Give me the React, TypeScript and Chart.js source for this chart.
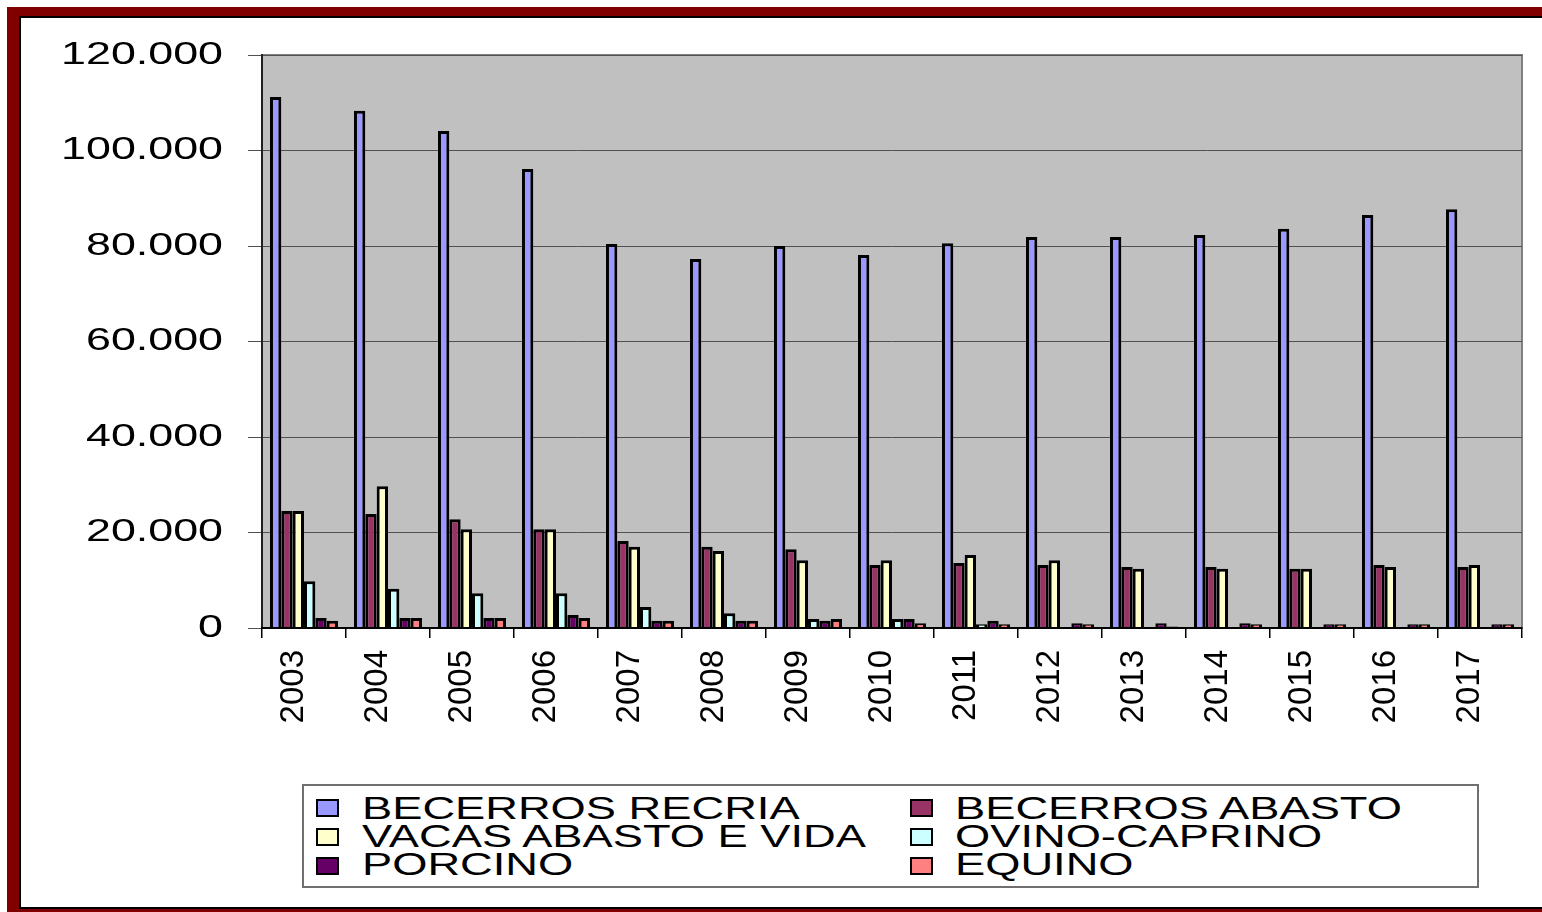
import React, { useEffect, useRef } from 'react';
import { Chart, registerables } from 'chart.js';

Chart.register(...registerables);

const years = ['2003', '2004', '2005', '2006', '2007', '2008', '2009', '2010', '2011', '2012', '2013', '2014', '2015', '2016', '2017'];

const becerrosRecria = [111200, 108300, 104100, 96100, 80400, 77300, 80000, 78100, 80600, 81900, 81900, 82300, 83600, 86500, 87700];
const becerrosAbasto = [24500, 23900, 22800, 20700, 18200, 17000, 16500, 13200, 13600, 13200, 12800, 12800, 12400, 13200, 12800];
const vacasAbastoEVida = [24500, 29700, 20700, 20700, 17000, 16100, 14200, 14200, 15300, 14200, 12400, 12400, 12400, 12800, 13200];
const ovinoCaprino = [9800, 8200, 7300, 7300, 4400, 3100, 1900, 1900, 800, 200, 200, 200, 0, 0, 0];
const porcino = [2100, 2100, 2100, 2700, 1500, 1500, 1500, 1900, 1500, 1000, 1000, 1000, 800, 800, 800];
const equino = [1500, 2100, 2100, 2100, 1500, 1500, 1900, 1000, 800, 800, 300, 800, 800, 800, 800];

const seriesNames = ['BECERROS RECRIA', 'BECERROS ABASTO', 'VACAS ABASTO E VIDA', 'OVINO-CAPRINO', 'PORCINO', 'EQUINO'];
const seriesColors = ['#9999FF', '#993366', '#FFFFCC', '#CCFFFF', '#660066', '#FF8080'];
const seriesValues = [becerrosRecria, becerrosAbasto, vacasAbastoEVida, ovinoCaprino, porcino, equino];

const yMin = 0;
const yMax = 120000;
const yStep = 20000;

const formatThousands = (v: number) => String(Math.round(v)).replace(/\B(?=(\d{3})+(?!\d))/g, '.');

const FONT = "'Liberation Sans', Arial, sans-serif";

const plotBgPlugin = {
  id: 'plotBg',
  beforeDraw(chart: any) {
    const { ctx, chartArea } = chart;
    const { left, top, right, bottom } = chartArea;
    ctx.save();
    ctx.fillStyle = '#C0C0C0';
    ctx.fillRect(left, top, right - left, bottom - top);
    ctx.strokeStyle = '#808080';
    ctx.lineWidth = 2;
    ctx.strokeRect(left, top, right - left, bottom - top);
    ctx.restore();
    // stretch y-axis tick labels horizontally, right edge kept 25px left of the tick marks
    const s = chart.scales.y;
    if (s && !s.__stretched) {
      const orig = s.drawLabels.bind(s);
      s.drawLabels = (area: any) => {
        const c = chart.ctx;
        const a = s.right - 14;
        c.save();
        c.translate(a - 25, 0);
        c.scale(1.4, 1);
        c.translate(-a, 0);
        orig(area);
        c.restore();
      };
      s.__stretched = true;
    }
  },
};

export default function App() {
  const canvasRef = useRef<HTMLCanvasElement | null>(null);

  useEffect(() => {
    if (!canvasRef.current) return;
    const chart = new Chart(canvasRef.current, {
      type: 'bar',
      data: {
        labels: years,
        datasets: seriesNames.map((name, i) => ({
          label: name,
          data: seriesValues[i],
          backgroundColor: seriesColors[i],
          borderColor: '#000000',
          borderWidth: 3,
          categoryPercentage: 0.81,
          barPercentage: 1.0,
        })),
      },
      options: {
        responsive: false,
        animation: false,
        devicePixelRatio: 1,
        layout: { padding: { top: 37, right: 20, bottom: 0, left: 0 } },
        plugins: {
          legend: { display: false },
          tooltip: { enabled: false },
          title: { display: false },
        },
        scales: {
          x: {
            type: 'category',
            offset: true,
            grid: {
              offset: true,
              drawOnChartArea: false,
              drawTicks: true,
              tickLength: 10,
              color: '#000000',
              lineWidth: 1.5,
            },
            border: { display: true, color: '#000000', width: 2, z: 1 },
            ticks: {
              autoSkip: false,
              minRotation: 90,
              maxRotation: 90,
              padding: 12,
              labelOffset: -10,
              color: '#000000',
              font: { family: FONT, size: 33 },
            },
            afterFit: (scale: any) => {
              scale.height = 278;
            },
          },
          y: {
            min: yMin,
            max: yMax,
            grid: {
              color: '#505050',
              lineWidth: 1,
              drawTicks: true,
              tickLength: 14,
            },
            border: { display: true, color: '#202020', width: 2 },
            ticks: {
              stepSize: yStep,
              padding: 0,
              color: '#000000',
              font: { family: FONT, size: 32, lineHeight: 1 },
              callback: (v: any) => formatThousands(Number(v)),
            },
            afterFit: (scale: any) => {
              scale.width = 241;
            },
          },
        },
      },
      plugins: [plotBgPlugin],
    });
    return () => chart.destroy();
  }, []);

  const colLeft = [316, 910];
  const textLeft = [362, 955];
  const boxTops = [799, 828, 857];
  const textTops = [793, 821, 849];

  return (
    <div style={{ position: 'fixed', left: 0, top: 0, width: 1542, height: 912, overflow: 'hidden', background: '#ffffff' }}>
      <div
        style={{
          position: 'absolute',
          left: 7,
          top: 7,
          width: 1560,
          height: 911,
          boxSizing: 'border-box',
          borderStyle: 'solid',
          borderColor: '#800000',
          borderWidth: '9px 12px 9px 12px',
          boxShadow: 'inset 0 0 0 2px #000000',
          background: '#ffffff',
        }}
      />
      <canvas ref={canvasRef} width={1521} height={888} style={{ position: 'absolute', left: 21, top: 18, width: 1521, height: 888 }} />
      <div
        style={{
          position: 'absolute',
          left: 302,
          top: 784,
          width: 1177,
          height: 104,
          boxSizing: 'border-box',
          border: '2px solid #707070',
          background: '#ffffff',
        }}
      />
      {seriesNames.map((name, i) => {
        const col = i % 2;
        const row = Math.floor(i / 2);
        return (
          <React.Fragment key={name}>
            <div
              style={{
                position: 'absolute',
                left: colLeft[col],
                top: boxTops[row],
                width: 23,
                height: 18,
                boxSizing: 'border-box',
                border: '2px solid #000000',
                background: seriesColors[i],
              }}
            />
            <div
              style={{
                position: 'absolute',
                left: textLeft[col],
                top: textTops[row],
                fontFamily: FONT,
                fontSize: 31,
                lineHeight: '31px',
                color: '#000000',
                whiteSpace: 'nowrap',
                transform: 'scaleX(1.46)',
                transformOrigin: 'left center',
              }}
            >
              {name}
            </div>
          </React.Fragment>
        );
      })}
    </div>
  );
}
